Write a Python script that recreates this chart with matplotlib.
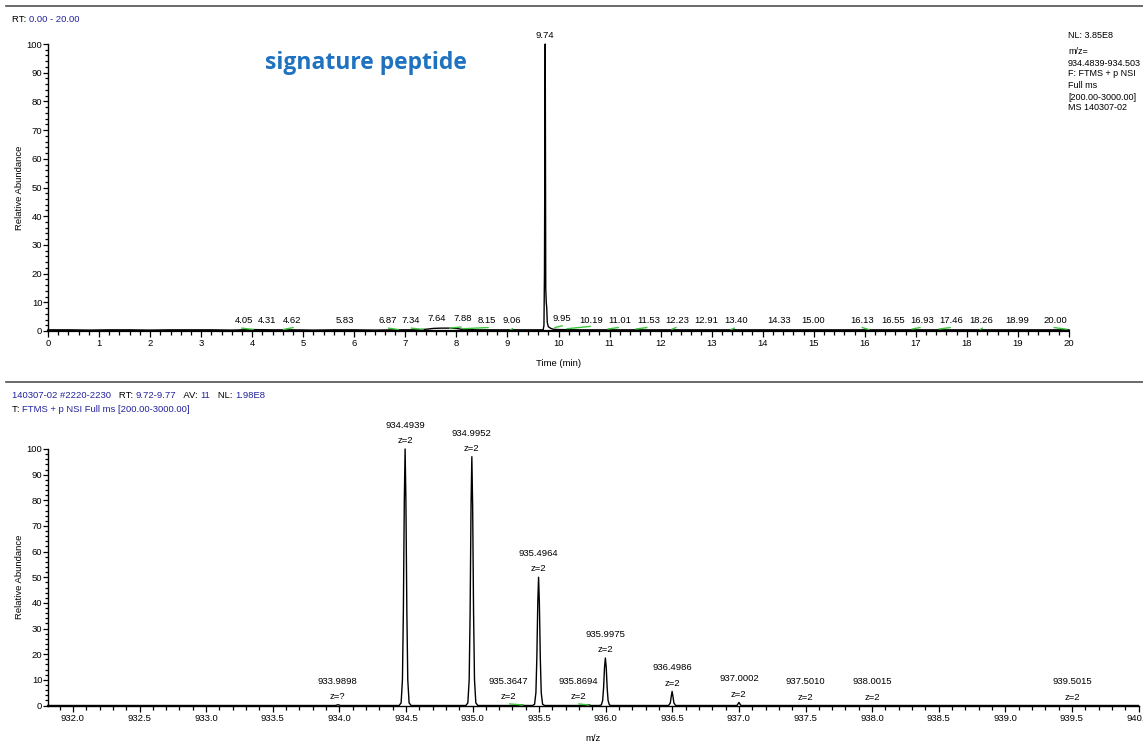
import matplotlib.pyplot as plt
from matplotlib.lines import Line2D
from matplotlib.ticker import MultipleLocator, FormatStrFormatter

plt.rcParams['font.family'] = ['Liberation Sans', 'DejaVu Sans']
plt.rcParams['font.size'] = 6.8

# chromatogram trace (time in min, relative abundance)
rt = [0.00, 0.40, 0.80, 1.20, 1.60, 2.00, 2.40, 2.80, 3.20, 3.60, 4.00, 4.40,
      4.80, 5.20, 5.60, 6.00, 6.40, 6.80, 7.20, 7.40, 7.55, 7.70, 7.85, 8.00,
      8.10, 8.40, 8.80, 9.20, 9.60, 9.70, 9.715, 9.725, 9.735, 9.74, 9.745,
      9.75, 9.76, 9.77, 9.78, 9.80, 9.85, 9.90, 10.00, 10.40, 10.80, 11.20,
      11.60, 12.00, 12.40, 12.80, 13.20, 13.60, 14.00, 14.40, 14.80, 15.20,
      15.60, 16.00, 16.40, 16.80, 17.20, 17.60, 18.00, 18.40, 18.80, 19.20,
      19.60, 20.00]
rt_abund = [0.4, 0.4, 0.3, 0.4, 0.4, 0.3, 0.4, 0.4, 0.4, 0.3, 0.5, 0.4,
            0.4, 0.3, 0.4, 0.4, 0.3, 0.4, 0.4, 0.6, 0.9, 1.0, 1.0, 0.9,
            0.6, 0.4, 0.4, 0.4, 0.4, 0.4, 2.0, 20.0, 75.0, 100.0, 60.0,
            15.0, 10.0, 8.0, 3.0, 1.5, 0.9, 0.6, 0.5, 0.4, 0.4, 0.4,
            0.4, 0.4, 0.4, 0.4, 0.4, 0.4, 0.4, 0.4, 0.4, 0.4,
            0.4, 0.4, 0.4, 0.4, 0.4, 0.4, 0.4, 0.4, 0.4, 0.4,
            0.4, 0.4]

# labelled retention times and the heights they sit on
rt_peaks = [4.05, 4.31, 4.62, 5.83, 6.87, 7.34, 7.64, 7.88, 8.15, 9.06, 9.74,
            9.95, 10.19, 11.01, 11.53, 12.23, 12.91, 13.40, 14.33, 15.00,
            16.13, 16.55, 16.93, 17.46, 18.26, 18.99, 20.00]
rt_peak_h = [0.5, 0.5, 0.5, 0.5, 0.5, 0.5, 1.2, 1.4, 0.5, 0.5, 100.0,
             1.2, 0.5, 0.5, 0.5, 0.5, 0.5, 0.5, 0.5, 0.5,
             0.5, 0.5, 0.5, 0.5, 0.5, 0.5, 0.5]
# sideways shift of each label (pixels) so neighbours don't collide
rt_label_dx = [-11, -1, 8, -1, -11, -12, -1, 12, 23, 1, 0,
               6, 23, 10, 12, 5, -1, 4, 0, -1,
               -9, 0, 10, 12, 1, 0, -14]

# green integration baselines: (t0, y0, t1, y1)
rt_green = [(3.80, 1.0, 4.02, 0.5), (4.61, 0.5, 4.80, 1.2), (6.67, 1.0, 6.86, 0.5),
            (7.12, 1.0, 7.35, 0.5), (7.87, 1.0, 8.09, 1.4), (8.13, 0.8, 8.62, 1.2),
            (9.06, 0.4, 9.10, 0.8), (9.93, 1.2, 10.07, 1.8), (10.17, 0.8, 10.62, 1.6),
            (10.97, 0.7, 11.17, 1.2), (11.52, 0.7, 11.73, 1.2), (12.22, 0.6, 12.30, 1.2),
            (13.38, 0.5, 13.44, 1.0), (15.95, 1.2, 16.08, 0.5), (16.93, 0.7, 17.08, 1.2),
            (17.46, 0.7, 17.67, 1.2), (18.26, 0.5, 18.30, 1.0), (19.71, 1.2, 19.96, 0.6)]

# mass spectrum profile (m/z, relative abundance)
mz = [931.81, 933.97, 933.99, 934.01,
      934.449, 934.464, 934.474, 934.481, 934.488, 934.494, 934.500, 934.507, 934.514, 934.524, 934.539,
      934.950, 934.965, 934.975, 934.982, 934.989, 934.995, 935.001, 935.008, 935.015, 935.025, 935.040,
      935.34, 935.3647, 935.39,
      935.451, 935.466, 935.476, 935.483, 935.490, 935.496, 935.502, 935.509, 935.516, 935.526, 935.541,
      935.85, 935.8694, 935.89,
      935.952, 935.967, 935.977, 935.984, 935.991, 935.9975, 936.004, 936.011, 936.018, 936.028, 936.043,
      936.472, 936.485, 936.492, 936.4986, 936.505, 936.512, 936.525,
      936.985, 936.993, 937.0002, 937.008, 937.015,
      940.00]
mz_abund = [0.0, 0.0, 0.3, 0.0,
            0, 1, 10, 37, 80, 100, 80, 37, 10, 1, 0,
            0, 1, 10, 36, 78, 97, 78, 36, 10, 1, 0,
            0.0, 0.3, 0.0,
            0, 0.5, 5, 18.5, 40, 50, 40, 18.5, 5, 0.5, 0,
            0.0, 0.3, 0.0,
            0, 0.2, 1.9, 6.8, 14.8, 18.5, 14.8, 6.8, 1.9, 0.2, 0,
            0, 1, 3.5, 5.5, 3.5, 1, 0,
            0, 0.6, 1.2, 0.6, 0,
            0.0]

mz_peaks = [933.9898, 934.4939, 934.9952, 935.3647, 935.4964, 935.8694, 935.9975,
            936.4986, 937.0002, 937.5010, 938.0015, 939.5015]
mz_peak_h = [0.3, 100, 97, 0.3, 50, 0.3, 18.5, 5.5, 1.2, 0.0, 0.0, 0.0]
mz_charge = ['z=?', 'z=2', 'z=2', 'z=2', 'z=2', 'z=2', 'z=2',
             'z=2', 'z=2', 'z=2', 'z=2', 'z=2']
mz_label_dx = [-1, 0, 0, -13, 0, -10, 0, 0, 0, 0, 0, 0]
mz_green = [(935.28, 0.6, 935.38, 0.2), (935.80, 0.6, 935.87, 0.2)]

BLUE = '#23239c'
GREEN = '#3cc83c'
W, H = 1143, 745
PT = 0.72  # points per pixel at 100 dpi

fig = plt.figure(figsize=(W / 100, H / 100), dpi=100)


def px_box(x0, x1, ytop, ybot):
    return [x0 / W, 1 - ybot / H, (x1 - x0) / W, (ybot - ytop) / H]


ax1 = fig.add_axes(px_box(48, 1069, 44, 331))
ax2 = fig.add_axes(px_box(48, 1138.5, 449, 705.5))

for ax in (ax1, ax2):
    for side in ('top', 'right'):
        ax.spines[side].set_visible(False)
    for side in ('left', 'bottom'):
        ax.spines[side].set_linewidth(1.0)
    ax.set_ylim(0, 100)
    ax.yaxis.set_major_locator(MultipleLocator(10))
    ax.yaxis.set_minor_locator(MultipleLocator(2))
    ax.tick_params(which='major', length=4.3, width=0.9, pad=1.5, labelsize=6.8)
    ax.tick_params(which='minor', length=2.8, width=0.9)
    ax.tick_params(axis='y', which='major', length=3.6, pad=0.5)
    ax.tick_params(axis='y', which='minor', length=2.2)
    ax.set_ylabel('Relative Abundance', fontsize=6.8)
    ax.patch.set_visible(False)
ax1.spines['bottom'].set_linewidth(1.6)

# top: chromatogram
ax1.plot(rt, rt_abund, color='black', lw=1.0, clip_on=False)
for t0, y0, t1, y1 in rt_green:
    ax1.plot([t0, t1], [y0, y1], color=GREEN, lw=1.0)
for t, h, dx in zip(rt_peaks, rt_peak_h, rt_label_dx):
    ax1.annotate(f'{t:.2f}', (t, h), xytext=(dx * PT, 6.3), textcoords='offset points',
                 ha='center', va='center', annotation_clip=False)
ax1.set_xlim(0, 20)
ax1.xaxis.set_major_locator(MultipleLocator(1))
ax1.xaxis.set_minor_locator(MultipleLocator(0.2))
ax1.set_xlabel('Time (min)', fontsize=6.8)
ax1.xaxis.set_label_coords(0.5, -(359 - 331) / 287)
ax1.yaxis.set_label_coords(-(48 - 24) / 1021, 0.5)

# bottom: mass spectrum
ax2.plot(mz, mz_abund, color='black', lw=1.0, clip_on=False)
for m0, y0, m1, y1 in mz_green:
    ax2.plot([m0, m1], [y0, y1], color=GREEN, lw=1.0)
for m, h, z, dx in zip(mz_peaks, mz_peak_h, mz_charge, mz_label_dx):
    ax2.annotate(z, (m, h), xytext=(dx * PT, 6.0), textcoords='offset points',
                 ha='center', va='center', annotation_clip=False)
    ax2.annotate(f'{m:.4f}', (m, h), xytext=(dx * PT, 17.0), textcoords='offset points',
                 ha='center', va='center', annotation_clip=False)
ax2.set_xlim(931.813, 940.0)
ax2.xaxis.set_major_locator(MultipleLocator(0.5))
ax2.xaxis.set_minor_locator(MultipleLocator(0.1))
ax2.xaxis.set_major_formatter(FormatStrFormatter('%.1f'))
ax2.set_xlabel('m/z', fontsize=6.8)
ax2.xaxis.set_label_coords(0.5, -(734 - 705.5) / 256.5)
ax2.yaxis.set_label_coords(-(48 - 24) / 1090.5, 0.5)

# separators between the two panels
for y in (6, 382):
    fig.add_artist(Line2D([6 / W, 1.0], [1 - y / H, 1 - y / H], color='#505050', lw=1.2))


def header(x, y, parts):
    """Write a run of black/blue text pieces one after another."""
    t = fig.text(x / W, 1 - y / H, parts[0][0], color=parts[0][1],
                 ha='left', va='center')
    for s, c in parts[1:]:
        t = ax1.annotate(s, xy=(1, 0), xycoords=t, xytext=(0, 0),
                         textcoords='offset points', ha='left', va='bottom',
                         color=c, annotation_clip=False)


header(12, 20, [('RT: ', 'black'), ('0.00 - 20.00', BLUE)])
header(12, 396, [('140307-02 #2220-2230', BLUE), ('   RT: ', 'black'), ('9.72-9.77', BLUE),
                 ('   AV: ', 'black'), ('11', BLUE), ('   NL: ', 'black'), ('1.98E8', BLUE)])
header(12, 410, [('T: ', 'black'), ('FTMS + p NSI Full ms [200.00-3000.00]', BLUE)])

info_lines = ['NL: 3.85E8', 'm/z=', '934.4839-934.503', 'F: FTMS + p NSI',
              'Full ms', '[200.00-3000.00]', 'MS 140307-02']
info_y = [36, 52, 63, 74, 85, 97, 108]
for s, y in zip(info_lines, info_y):
    fig.text(1068 / W, 1 - y / H, s, fontsize=6.5, ha='left', va='center')

fig.text(265 / W, 1 - 63 / H, 'signature peptide', color='#1f72c0', fontsize=16.5,
         fontweight='bold', family=['Open Sans', 'DejaVu Sans'], ha='left', va='center')

fig.savefig('out.png', dpi=100)
